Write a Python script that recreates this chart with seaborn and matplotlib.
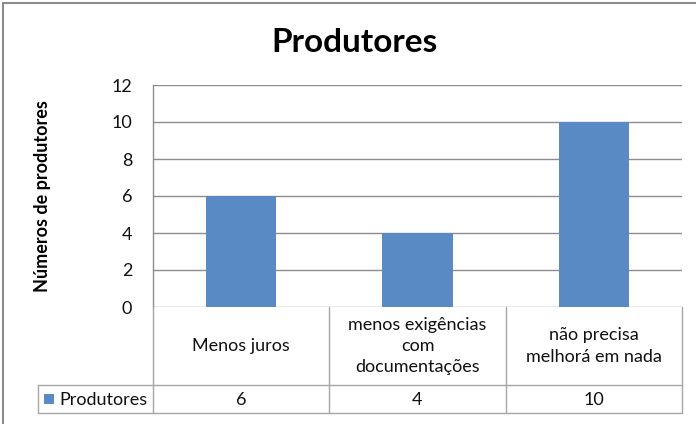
import matplotlib
matplotlib.use("Agg")
import matplotlib.pyplot as plt
import matplotlib.transforms as mtransforms
from matplotlib.lines import Line2D
from matplotlib.patches import Rectangle
import seaborn as sns
import pandas as pd

categories = ["Menos juros", "menos exigências\ncom\ndocumentações", "não precisa\nmelhorá em nada"]
values = [6, 4, 10]
series_name = "Produtores"
y_ticks = [0, 2, 4, 6, 8, 10, 12]

sns.set_theme(style="white")
plt.rcParams["font.family"] = ["Lato", "DejaVu Sans"]

BAR = "#5A8AC4"
GRID = "#8C8C8C"
TABLE = "#A6A6A6"
TXT = "#111111"

W, H = 696, 424
fig = plt.figure(figsize=(W / 100, H / 100), dpi=100)

def fx(px):
    return px / W

def fy(py):
    return 1 - py / H

# plot area
left, right, top, bottom = 153, 682, 85, 307
ax = fig.add_axes([fx(left), fy(bottom), fx(right - left), (bottom - top) / H])

df = pd.DataFrame({"cat": categories, "val": values})
sns.barplot(data=df, x="cat", y="val", color=BAR, width=0.4, saturation=1,
            edgecolor="none", ax=ax, zorder=3)

ax.set_ylim(0, 12)
ax.set_xlim(-0.5, 2.5)
ax.set_yticks(y_ticks)
ax.set_yticklabels([str(t) for t in y_ticks], fontsize=13, color=TXT)
ax.tick_params(axis="y", length=0, pad=15)
ax.set_xticks([])
ax.set_xlabel("")
ax.set_ylabel("")
for t in y_ticks:
    ax.axhline(t, color=GRID, lw=1.0, zorder=1)
for s in ["top", "right", "bottom"]:
    ax.spines[s].set_visible(False)
ax.spines["left"].set_color(GRID)
ax.spines["left"].set_linewidth(1.0)

# figure frame
fig.add_artist(Rectangle((fx(3), fy(430)), fx(700), 427 / H, transform=fig.transFigure,
                         fill=False, edgecolor="#8C8C8C", lw=1.5))

fig.text(fx(355), fy(42), "Produtores", ha="center", va="center", fontsize=24,
         fontweight="bold", color="black")
fig.text(fx(43), fy(196), "Números de produtores", ha="center", va="center",
         rotation=90, fontsize=13, fontweight="bold", color="black")

# data table below the plot
trans = mtransforms.blended_transform_factory(ax.transData, fig.transFigure)
row_top, row_mid, row_bot = 307, 385, 413
for xb in [-0.5, 0.5, 1.5, 2.5]:
    fig.add_artist(Line2D([xb, xb], [fy(row_top), fy(row_bot)], transform=trans,
                          color=TABLE, lw=1.0))
for yb in [row_mid, row_bot]:
    fig.add_artist(Line2D([fx(38), fx(right)], [fy(yb), fy(yb)],
                          transform=fig.transFigure, color=TABLE, lw=1.0))
fig.add_artist(Line2D([fx(38), fx(38)], [fy(row_mid), fy(row_bot)],
                      transform=fig.transFigure, color=TABLE, lw=1.0))

for i, (c, v) in enumerate(zip(categories, values)):
    fig.text(i, fy((row_top + row_mid) / 2), c, transform=trans, ha="center",
             va="center", fontsize=13, color=TXT, linespacing=1.4)
    fig.text(i, fy((row_mid + row_bot) / 2 + 1), str(v), transform=trans, ha="center",
             va="center", fontsize=13, color=TXT)

fig.add_artist(Rectangle((fx(44), fy(404)), fx(10), 10 / H, transform=fig.transFigure,
                         facecolor=BAR, edgecolor="none"))
fig.text(fx(59), fy(400), series_name, ha="left", va="center", fontsize=13,
         color=TXT)

fig.savefig("out.png", dpi=100, facecolor="white")
